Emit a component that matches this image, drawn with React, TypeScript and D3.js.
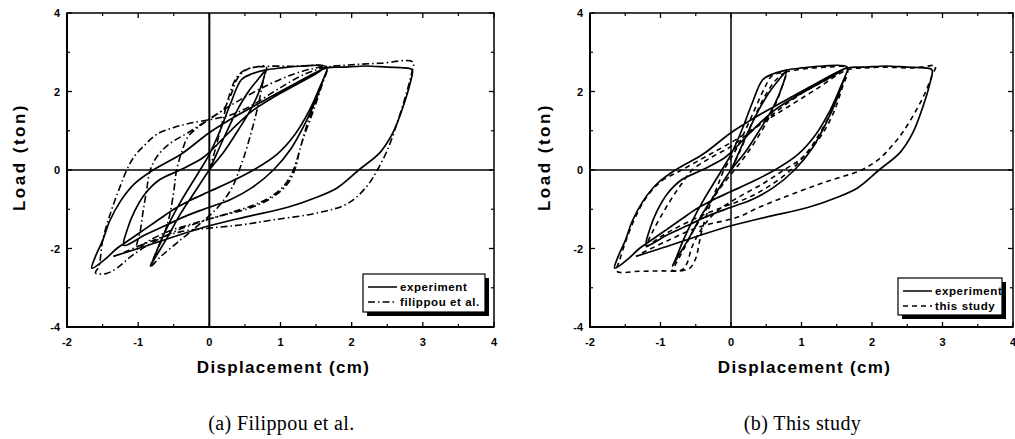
import React from "react";
import * as d3 from "d3";

const xTicks = [-2, -1, 0, 1, 2, 3, 4];
const xMinor = [-1.5, -0.5, 0.5, 1.5, 2.5, 3.5];
const yTicks = [-4, -2, 0, 2, 4];
const yMinor = [-3, -1, 1, 3];

const experiment: [number, number][] = [
  [0, 0], [0.1, 0.4], [0.25, 1.0], [0.4, 1.55], [0.55, 2.0], [0.68, 2.3], [0.78, 2.5],
  [0.74, 2.2], [0.6, 1.6], [0.4, 1.0], [0.2, 0.45], [0.0, 0.0], [-0.2, -0.55], [-0.4, -1.1], [-0.6, -1.75], [-0.75, -2.2], [-0.83, -2.45],
  [-0.78, -2.25], [-0.68, -1.8], [-0.55, -1.3], [-0.4, -0.8], [-0.25, -0.35], [-0.13, 0], [0.0, 0.4], [0.15, 1.0], [0.3, 1.7], [0.45, 2.3], [0.6, 2.45], [0.8, 2.55], [1.0, 2.6], [1.3, 2.65], [1.65, 2.62],
  [1.6, 2.3], [1.5, 1.8], [1.35, 1.2], [1.15, 0.55], [0.9, 0], [0.6, -0.45], [0.3, -0.75], [0, -0.95], [-0.3, -1.15], [-0.6, -1.4], [-0.9, -1.65], [-1.2, -1.92],
  [-1.15, -1.5], [-1.05, -1.05], [-0.9, -0.6], [-0.7, -0.25], [-0.41, 0], [-0.1, 0.3], [0.0, 0.45], [0.3, 1.0], [0.6, 1.5], [0.9, 1.85], [1.2, 2.15], [1.45, 2.4], [1.65, 2.6],
  [1.55, 2.1], [1.4, 1.5], [1.2, 0.9], [0.95, 0.4], [0.62, 0], [0.3, -0.3], [0, -0.55], [-0.3, -0.8], [-0.5, -1.0], [-0.7, -1.25], [-0.9, -1.5], [-1.1, -1.75], [-1.3, -2.0], [-1.45, -2.25], [-1.65, -2.5],
  [-1.6, -2.2], [-1.5, -1.8], [-1.4, -1.3], [-1.25, -0.8], [-1.05, -0.35], [-0.79, 0], [-0.4, 0.4], [0, 0.95], [0.4, 1.4], [0.8, 1.8], [1.2, 2.2], [1.65, 2.6],
  [1.9, 2.62], [2.2, 2.65], [2.5, 2.62], [2.75, 2.6], [2.85, 2.55],
  [2.82, 2.2], [2.72, 1.6], [2.58, 0.95], [2.4, 0.45], [2.1, 0], [1.8, -0.45], [1.5, -0.7], [1.1, -0.95], [0.5, -1.2], [0, -1.42], [-0.5, -1.7], [-1.0, -2.0], [-1.35, -2.2],
];

const filippou: [number, number][] = [
  [0, 0], [0.08, 0.5], [0.18, 1.2], [0.28, 1.9], [0.38, 2.35], [0.5, 2.55], [0.65, 2.62], [0.8, 2.64],
  [0.76, 2.3], [0.68, 1.6], [0.58, 0.9], [0.48, 0.3], [0.42, 0], [0.32, -0.45], [0.12, -0.95], [-0.15, -1.4], [-0.45, -1.85], [-0.68, -2.2], [-0.82, -2.45],
  [-0.76, -2.15], [-0.66, -1.75], [-0.57, -1.25], [-0.5, -0.55], [-0.46, 0], [-0.38, 0.5], [-0.3, 0.85], [-0.15, 1.1], [0.05, 1.35], [0.2, 1.55], [0.3, 1.9], [0.4, 2.35], [0.55, 2.58], [0.8, 2.64], [1.2, 2.64], [1.65, 2.62],
  [1.6, 2.3], [1.5, 1.8], [1.38, 1.2], [1.27, 0.5], [1.2, 0], [1.1, -0.35], [0.9, -0.68], [0.6, -0.95], [0.2, -1.15], [-0.2, -1.35], [-0.55, -1.55], [-0.85, -1.8], [-1.02, -2.0],
  [-0.97, -1.55], [-0.93, -1.05], [-0.88, -0.5], [-0.83, 0], [-0.72, 0.38], [-0.55, 0.68], [-0.3, 0.95], [0, 1.3], [0.35, 1.7], [0.75, 2.1], [1.15, 2.42], [1.45, 2.58], [1.65, 2.62],
  [1.58, 2.15], [1.46, 1.5], [1.32, 0.8], [1.22, 0.2], [1.18, 0], [1.05, -0.4], [0.8, -0.75], [0.45, -1.0], [0.0, -1.25], [-0.4, -1.5], [-0.8, -1.85], [-1.1, -2.2], [-1.3, -2.5], [-1.45, -2.64], [-1.6, -2.62],
  [-1.55, -2.45], [-1.5, -1.8], [-1.38, -1.05], [-1.26, -0.45], [-1.16, 0], [-1.06, 0.33], [-0.9, 0.65], [-0.73, 0.92], [-0.5, 1.08], [-0.3, 1.18], [0, 1.28], [0.3, 1.4], [0.6, 1.65], [1.0, 2.1], [1.35, 2.45], [1.65, 2.62],
  [2.0, 2.68], [2.4, 2.72], [2.86, 2.75],
  [2.84, 2.45], [2.76, 1.9], [2.64, 1.2], [2.5, 0.5], [2.36, 0], [2.22, -0.4], [1.95, -0.85], [1.5, -1.1], [0.9, -1.27], [0.44, -1.4], [0, -1.48], [-0.4, -1.57], [-0.8, -1.8], [-1.2, -2.1],
];

const thisStudy: [number, number][] = [
  [0, 0], [0.12, 0.45], [0.25, 1.0], [0.4, 1.6], [0.52, 2.0], [0.64, 2.3], [0.78, 2.48],
  [0.72, 2.1], [0.6, 1.55], [0.42, 0.95], [0.22, 0.4], [0.05, 0], [-0.15, -0.45], [-0.35, -1.0], [-0.55, -1.6], [-0.68, -2.05], [-0.8, -2.45], [-0.83, -2.55],
  [-0.6, -2.52], [-0.5, -2.25], [-0.45, -1.85], [-0.4, -1.45], [-0.3, -0.9], [-0.2, -0.45], [-0.1, 0], [0.05, 0.45], [0.2, 1.0], [0.35, 1.6], [0.48, 2.1], [0.58, 2.4], [0.78, 2.5], [1.05, 2.58], [1.35, 2.62], [1.65, 2.6],
  [1.58, 2.2], [1.45, 1.6], [1.28, 1.0], [1.08, 0.45], [0.85, 0], [0.55, -0.4], [0.25, -0.7], [-0.05, -0.9], [-0.4, -1.15], [-0.75, -1.45], [-1.0, -1.7], [-1.2, -1.95],
  [-1.12, -1.6], [-1.0, -1.2], [-0.85, -0.75], [-0.7, -0.35], [-0.55, 0], [-0.3, 0.3], [0, 0.6], [0.3, 1.0], [0.65, 1.5], [1.0, 1.95], [1.35, 2.3], [1.65, 2.58],
  [1.57, 2.05], [1.44, 1.4], [1.25, 0.8], [1.0, 0.3], [0.75, 0], [0.45, -0.35], [0.1, -0.7], [-0.2, -1.05], [-0.4, -1.45], [-0.55, -1.95], [-0.63, -2.4], [-0.7, -2.55], [-1.0, -2.57], [-1.3, -2.58], [-1.62, -2.58],
  [-1.58, -2.3], [-1.5, -1.85], [-1.38, -1.3], [-1.22, -0.75], [-1.0, -0.3], [-0.7, 0], [-0.35, 0.35], [0, 0.7], [0.4, 1.15], [0.8, 1.6], [1.2, 2.05], [1.65, 2.55],
  [1.9, 2.6], [2.2, 2.62], [2.5, 2.6], [2.7, 2.62], [2.9, 2.65],
  [2.85, 2.4], [2.75, 1.95], [2.62, 1.5], [2.45, 1.0], [2.3, 0.65], [2.1, 0.28], [1.85, 0], [1.4, -0.27], [0.96, -0.55], [0.4, -0.95], [0.1, -1.2], [-0.45, -1.45], [-0.9, -1.8], [-1.3, -2.15],
];

const legendLabels = ["experiment", "filippou et al.", "this study"];
const captions = ["(a) Filippou et al.", "(b) This study"];

const SANS = "'Liberation Sans', Arial, Helvetica, sans-serif";
const SERIF = "'Liberation Serif', 'Times New Roman', serif";
const DASHDOT = "7,3,1.5,3";
const DASHED = "5,4";

type PanelProps = {
  left: number;
  right: number;
  model: [number, number][];
  dash: string;
  modelLabel: string;
  caption: string;
  legend: { x: number; y: number; w: number; h: number };
  yTitleX: number;
  zeroW: number;
};

function Panel({ left, right, model, dash, modelLabel, caption, legend, yTitleX, zeroW }: PanelProps) {
  const top = 13;
  const bottom = 327;
  const x = d3.scaleLinear().domain([-2, 4]).range([left, right]);
  const y = d3.scaleLinear().domain([-4, 4]).range([bottom, top]);
  const line = d3
    .line<[number, number]>()
    .x((d) => x(d[0]))
    .y((d) => y(d[1]))
    .curve(d3.curveCatmullRom.alpha(0.5));
  const cx = (left + right) / 2 + 3;
  return (
    <g>
      {/* zero lines */}
      <line x1={x(0)} x2={x(0)} y1={top} y2={bottom} stroke="#000" strokeWidth={zeroW} />
      <line x1={left} x2={right} y1={y(0)} y2={y(0)} stroke="#000" strokeWidth={1.3} />
      {/* data */}
      <path d={line(experiment) || ""} fill="none" stroke="#000" strokeWidth={1.7} strokeLinejoin="round" />
      <path d={line(model) || ""} fill="none" stroke="#000" strokeWidth={1.6} strokeDasharray={dash} strokeLinejoin="round" />
      {/* frame */}
      <rect x={left} y={top} width={right - left} height={bottom - top} fill="none" stroke="#000" strokeWidth={1.5} />
      <line x1={left} x2={left} y1={top} y2={bottom + 1} stroke="#000" strokeWidth={2} />
      <line x1={left - 1} x2={right} y1={bottom} y2={bottom} stroke="#000" strokeWidth={2} />
      {/* ticks */}
      {xTicks.map((t) => (
        <g key={"xt" + t}>
          <line x1={x(t)} x2={x(t)} y1={bottom} y2={bottom - 5} stroke="#000" strokeWidth={1.3} />
          <line x1={x(t)} x2={x(t)} y1={top} y2={top + 5} stroke="#000" strokeWidth={1.3} />
          <text x={x(t)} y={346} textAnchor="middle" fontFamily={SANS} fontWeight="bold" fontSize={11}>
            {t}
          </text>
        </g>
      ))}
      {xMinor.map((t) => (
        <g key={"xm" + t}>
          <line x1={x(t)} x2={x(t)} y1={bottom} y2={bottom - 3} stroke="#000" strokeWidth={1.2} />
          <line x1={x(t)} x2={x(t)} y1={top} y2={top + 3} stroke="#000" strokeWidth={1.2} />
        </g>
      ))}
      {yTicks.map((t) => (
        <g key={"yt" + t}>
          <line x1={left} x2={left + 5} y1={y(t)} y2={y(t)} stroke="#000" strokeWidth={1.3} />
          <line x1={right} x2={right - 5} y1={y(t)} y2={y(t)} stroke="#000" strokeWidth={1.3} />
          <text x={left - 7} y={y(t) + 4} textAnchor="end" fontFamily={SANS} fontWeight="bold" fontSize={11}>
            {t}
          </text>
        </g>
      ))}
      {yMinor.map((t) => (
        <g key={"ym" + t}>
          <line x1={left} x2={left + 3} y1={y(t)} y2={y(t)} stroke="#000" strokeWidth={1.2} />
          <line x1={right} x2={right - 3} y1={y(t)} y2={y(t)} stroke="#000" strokeWidth={1.2} />
        </g>
      ))}
      {/* titles */}
      <text x={cx} y={373} textAnchor="middle" fontFamily={SANS} fontWeight="bold" fontSize={17} letterSpacing={1.3}>
        Displacement (cm)
      </text>
      <text
        transform={`translate(${yTitleX},${157}) rotate(-90)`}
        textAnchor="middle"
        fontFamily={SANS}
        fontWeight="bold"
        fontSize={17}
        letterSpacing={2.5}
      >
        Load (ton)
      </text>
      <text x={cx - 2} y={430} textAnchor="middle" fontFamily={SERIF} fontSize={20} letterSpacing={0.4}>
        {caption}
      </text>
      {/* legend */}
      <rect x={legend.x + 4} y={legend.y + 4} width={legend.w} height={legend.h} fill="#000" />
      <rect x={legend.x} y={legend.y} width={legend.w} height={legend.h} fill="#fff" stroke="#000" strokeWidth={1.2} />
      <line x1={legend.x + 5} x2={legend.x + 34} y1={legend.y + 13} y2={legend.y + 13} stroke="#000" strokeWidth={1.5} />
      <text x={legend.x + 37} y={legend.y + 17} fontFamily={SANS} fontWeight="bold" fontSize={11.5} letterSpacing={0.6}>
        {legendLabels[0]}
      </text>
      <line x1={legend.x + 5} x2={legend.x + 34} y1={legend.y + 28} y2={legend.y + 28} stroke="#000" strokeWidth={1.4} strokeDasharray={dash} />
      <text x={legend.x + 37} y={legend.y + 32} fontFamily={SANS} fontWeight="bold" fontSize={11.5} letterSpacing={0.6}>
        {modelLabel}
      </text>
    </g>
  );
}

export default function App() {
  return (
    <svg
      width={1015}
      height={439}
      style={{ position: "absolute", left: 0, top: 0, background: "#fff" }}
    >
      <rect x={0} y={0} width={1015} height={439} fill="#fff" />
      <Panel
        left={67}
        right={494}
        model={filippou}
        dash={DASHDOT}
        modelLabel={legendLabels[1]}
        caption={captions[0]}
        legend={{ x: 363, y: 274, w: 122, h: 38 }}
        yTitleX={25}
        zeroW={2}
      />
      <Panel
        left={590}
        right={1013}
        model={thisStudy}
        dash={DASHED}
        modelLabel={legendLabels[2]}
        caption={captions[1]}
        legend={{ x: 898, y: 278, w: 104, h: 37 }}
        yTitleX={550}
        zeroW={1.5}
      />
    </svg>
  );
}
